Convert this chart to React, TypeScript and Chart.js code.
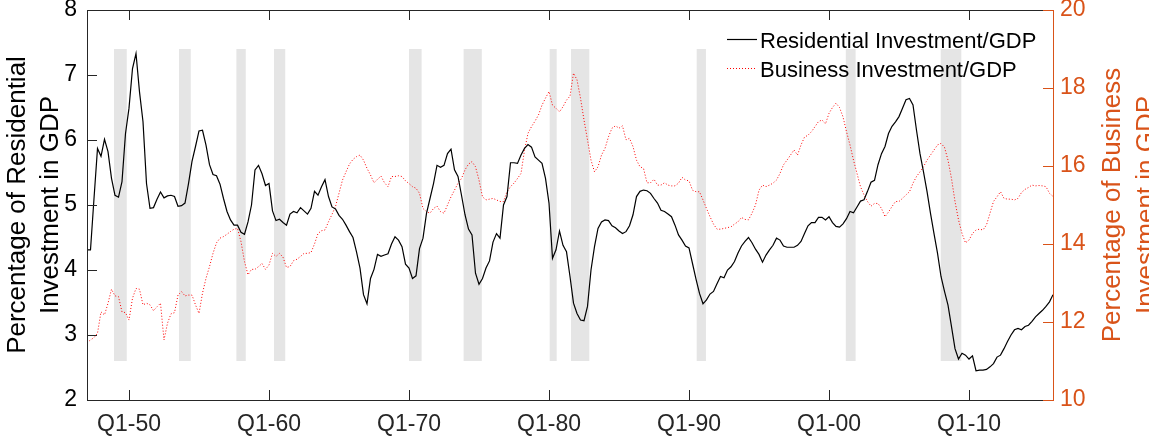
import React, { useEffect, useRef } from 'react';
import { Chart, registerables } from 'chart.js';

Chart.register(...registerables);

// ---------------- data ----------------
const startYear = 1947; // first observation: 1947 Q1, quarterly

const residential = [
  4.31, 4.31, 5.10, 5.87, 5.75, 6.01, 5.82, 5.41, 5.15, 5.12, 5.36, 6.10, 6.49, 7.10, 7.33, 6.74,
  6.28, 5.33, 4.95, 4.96, 5.09, 5.20, 5.11, 5.14, 5.15, 5.13, 4.98, 4.99, 5.03, 5.33, 5.67, 5.90,
  6.14, 6.15, 5.92, 5.62, 5.47, 5.45, 5.32, 5.10, 4.90, 4.77, 4.69, 4.69, 4.58, 4.55, 4.74, 5.00,
  5.54, 5.61, 5.48, 5.30, 5.33, 4.91, 4.76, 4.78, 4.73, 4.69, 4.86, 4.90, 4.88, 4.96, 4.91, 4.86,
  4.95, 5.21, 5.15, 5.28, 5.39, 5.13, 4.97, 4.94, 4.84, 4.78, 4.69, 4.59, 4.50, 4.28, 4.03, 3.62,
  3.48, 3.87, 4.01, 4.24, 4.21, 4.23, 4.25, 4.40, 4.51, 4.46, 4.36, 4.09, 4.03, 3.87, 3.91, 4.33,
  4.49, 4.87, 5.10, 5.33, 5.61, 5.58, 5.61, 5.79, 5.86, 5.54, 5.44, 5.15, 4.85, 4.63, 4.54, 3.95,
  3.78, 3.87, 4.03, 4.14, 4.43, 4.56, 4.49, 5.00, 5.13, 5.65, 5.65, 5.64, 5.77, 5.87, 5.93, 5.89,
  5.74, 5.69, 5.64, 5.41, 5.03, 4.18, 4.31, 4.60, 4.38, 4.28, 3.90, 3.49, 3.33, 3.23, 3.22, 3.44,
  4.00, 4.36, 4.64, 4.74, 4.77, 4.76, 4.68, 4.65, 4.60, 4.56, 4.59, 4.68, 4.85, 5.13, 5.21, 5.23,
  5.22, 5.18, 5.10, 5.03, 4.92, 4.90, 4.86, 4.82, 4.69, 4.54, 4.46, 4.37, 4.34, 4.10, 3.86, 3.64,
  3.48, 3.54, 3.63, 3.67, 3.79, 3.90, 3.88, 4.00, 4.05, 4.13, 4.26, 4.37, 4.44, 4.50, 4.42, 4.32,
  4.24, 4.12, 4.23, 4.31, 4.38, 4.49, 4.46, 4.37, 4.35, 4.35, 4.35, 4.38, 4.44, 4.56, 4.68, 4.73,
  4.73, 4.81, 4.81, 4.77, 4.82, 4.73, 4.67, 4.66, 4.71, 4.79, 4.90, 4.88, 4.97, 5.06, 5.08, 5.21,
  5.35, 5.38, 5.62, 5.79, 5.90, 6.10, 6.21, 6.28, 6.36, 6.49, 6.62, 6.64, 6.54, 6.15, 5.79, 5.51,
  5.21, 4.87, 4.56, 4.26, 3.90, 3.67, 3.46, 3.13, 2.79, 2.63, 2.72, 2.69, 2.63, 2.68, 2.45, 2.46,
  2.46, 2.47, 2.51, 2.56, 2.66, 2.69, 2.79, 2.90, 3.00, 3.08, 3.10, 3.08, 3.13, 3.15, 3.21, 3.28,
  3.33, 3.38, 3.44, 3.51, 3.62,
];

const business = [
  11.47, 11.54, 11.60, 11.71, 12.26, 12.18, 12.48, 12.84, 12.67, 12.65, 12.26, 12.24, 12.05, 12.61, 12.86, 12.84,
  12.44, 12.48, 12.44, 12.29, 12.39, 12.48, 11.54, 11.97, 12.21, 12.24, 12.69, 12.78, 12.67, 12.69, 12.69, 12.44,
  12.22, 12.74, 13.12, 13.42, 13.76, 14.03, 14.15, 14.19, 14.25, 14.32, 14.38, 14.40, 14.06, 13.55, 13.21, 13.35,
  13.35, 13.42, 13.50, 13.35, 13.46, 13.76, 13.68, 13.76, 13.66, 13.40, 13.42, 13.57, 13.61, 13.68, 13.76, 13.76,
  13.78, 14.00, 14.27, 14.34, 14.36, 14.57, 14.76, 14.96, 15.30, 15.64, 15.85, 16.05, 16.17, 16.24, 16.28, 16.15,
  15.94, 15.77, 15.57, 15.66, 15.74, 15.57, 15.47, 15.73, 15.73, 15.75, 15.73, 15.62, 15.55, 15.47, 15.43, 15.30,
  14.91, 14.83, 14.79, 14.91, 14.97, 14.83, 14.79, 15.00, 15.21, 15.38, 15.56, 15.68, 15.90, 16.05, 16.11, 15.98,
  15.64, 15.21, 15.13, 15.15, 15.17, 15.13, 15.09, 15.09, 15.34, 15.47, 15.56, 15.68, 15.81, 16.40, 16.84, 17.01,
  17.15, 17.31, 17.56, 17.74, 17.91, 17.56, 17.48, 17.39, 17.52, 17.69, 17.79, 18.38, 18.21, 17.74, 17.18, 16.67,
  16.15, 15.85, 15.98, 16.28, 16.45, 16.75, 16.97, 17.03, 16.97, 17.03, 16.67, 16.71, 16.50, 16.15, 15.98, 15.94,
  15.57, 15.57, 15.66, 15.51, 15.51, 15.57, 15.51, 15.49, 15.49, 15.56, 15.71, 15.64, 15.62, 15.38, 15.34, 15.34,
  15.13, 14.91, 14.70, 14.51, 14.38, 14.38, 14.40, 14.42, 14.44, 14.51, 14.57, 14.68, 14.63, 14.62, 14.79, 15.00,
  15.38, 15.51, 15.47, 15.51, 15.56, 15.64, 15.81, 16.03, 16.15, 16.28, 16.41, 16.28, 16.54, 16.74, 16.79, 16.88,
  17.01, 17.14, 17.18, 17.08, 17.35, 17.50, 17.61, 17.50, 17.26, 16.88, 16.54, 16.15, 15.81, 15.47, 15.26, 15.09,
  14.97, 15.04, 15.04, 14.91, 14.70, 14.82, 14.96, 15.09, 15.09, 15.17, 15.26, 15.34, 15.56, 15.73, 15.85, 15.98,
  16.15, 16.28, 16.41, 16.54, 16.58, 16.48, 16.15, 15.68, 15.09, 14.62, 14.27, 14.03, 14.10, 14.27, 14.36, 14.38,
  14.36, 14.49, 14.79, 15.09, 15.21, 15.34, 15.17, 15.15, 15.15, 15.13, 15.17, 15.32, 15.40, 15.45, 15.51, 15.49,
  15.50, 15.49, 15.47, 15.30, 15.22,
];

// NBER recessions (fractional years)
const recessionStart = [1948.93, 1953.57, 1957.67, 1960.36, 1970.0, 1973.9, 1980.05, 1981.57, 1990.55, 2001.2, 2007.98];
const recessionEnd = [1949.84, 1954.41, 1958.34, 1961.16, 1970.9, 1975.2, 1980.55, 1982.88, 1991.21, 2001.9, 2009.45];
const shadeBottom = 2.6;
const shadeTop = 7.4;

const xTickValues = [1950, 1960, 1970, 1980, 1990, 2000, 2010];
const xTickLabels = ['Q1-50', 'Q1-60', 'Q1-70', 'Q1-80', 'Q1-90', 'Q1-00', 'Q1-10'];
const xMin = 1947;
const xMax = 2016;
const leftMin = 2, leftMax = 8, leftStep = 1;
const rightMin = 10, rightMax = 20, rightStep = 2;

const seriesLabels = ['Residential Investment/GDP', 'Business Investment/GDP'];
const leftTitle = ['Percentage of Residential', 'Investment in GDP'];
const rightTitle = ['Percentage of Business', 'Investment in GDP'];

// ---------------- styles ----------------
const FONT = '"Liberation Sans", Arial, Helvetica, sans-serif';
const AXIS = '#262626';
const ORANGE = '#D95319';
const RED = '#FF0000';
const SHADE = '#E5E5E5';

const decorPlugin = {
  id: 'decor',
  beforeDatasetsDraw(chart: any) {
    const { ctx, scales } = chart;
    const x = scales.x, y = scales.y;
    ctx.save();
    ctx.fillStyle = SHADE;
    const t = y.getPixelForValue(shadeTop);
    const b = y.getPixelForValue(shadeBottom);
    recessionStart.forEach((s, k) => {
      const a = x.getPixelForValue(s);
      const e = x.getPixelForValue(recessionEnd[k]);
      ctx.fillRect(a, t, e - a, b - t);
    });
    ctx.restore();
  },
  afterDatasetsDraw(chart: any) {
    const { ctx, chartArea, scales } = chart;
    const { left, right, top, bottom } = chartArea;
    const x = scales.x, y = scales.y, y1 = scales.y1;
    const tl = 10;
    ctx.save();
    ctx.lineWidth = 1;
    // box
    ctx.strokeStyle = AXIS;
    ctx.beginPath();
    ctx.moveTo(left, top + 0.5); ctx.lineTo(right, top + 0.5);
    ctx.moveTo(left, bottom + 0.5); ctx.lineTo(right, bottom + 0.5);
    ctx.moveTo(left + 0.5, top); ctx.lineTo(left + 0.5, bottom + 1);
    ctx.stroke();
    // x ticks (inside, top & bottom)
    ctx.beginPath();
    xTickValues.forEach((v) => {
      const px = Math.round(x.getPixelForValue(v)) + 0.5;
      ctx.moveTo(px, bottom); ctx.lineTo(px, bottom - tl);
      ctx.moveTo(px, top); ctx.lineTo(px, top + tl);
    });
    // left ticks
    y.ticks.forEach((tk: any) => {
      const py = Math.round(y.getPixelForValue(tk.value)) + 0.5;
      ctx.moveTo(left, py); ctx.lineTo(left + tl, py);
    });
    ctx.stroke();
    // right axis (orange)
    ctx.strokeStyle = ORANGE;
    ctx.beginPath();
    ctx.moveTo(right + 0.5, top); ctx.lineTo(right + 0.5, bottom + 1);
    y1.ticks.forEach((tk: any) => {
      const py = Math.round(y1.getPixelForValue(tk.value)) + 0.5;
      ctx.moveTo(right + 1, py); ctx.lineTo(right - tl, py);
    });
    ctx.stroke();

    // legend
    const lgX = 727, lgLen = 30, lgTextX = 760;
    const rows = [
      { line: 39.5, base: 48, color: '#000000', dash: [] as number[], width: 1.2 },
      { line: 68.5, base: 77, color: RED, dash: [1, 2], width: 1 },
    ];
    ctx.font = `22px ${FONT}`;
    ctx.textAlign = 'left';
    ctx.textBaseline = 'alphabetic';
    rows.forEach((r, k) => {
      ctx.strokeStyle = r.color;
      ctx.lineWidth = r.width;
      ctx.setLineDash(r.dash);
      ctx.beginPath();
      ctx.moveTo(lgX, r.line); ctx.lineTo(lgX + lgLen, r.line);
      ctx.stroke();
      ctx.setLineDash([]);
      ctx.fillStyle = '#000000';
      ctx.fillText(seriesLabels[k], lgTextX, r.base);
    });

    // axis titles (rotated, reading bottom-to-top)
    const midY = (top + bottom) / 2;
    ctx.font = `26px ${FONT}`;
    ctx.textAlign = 'center';
    const drawRot = (text: string, bx: number, color: string) => {
      ctx.save();
      ctx.translate(bx, midY);
      ctx.rotate(-Math.PI / 2);
      ctx.fillStyle = color;
      ctx.fillText(text, 0, 0);
      ctx.restore();
    };
    drawRot(leftTitle[0], 25, '#000000');
    drawRot(leftTitle[1], 58, '#000000');
    drawRot(rightTitle[0], 1120, ORANGE);
    drawRot(rightTitle[1], 1154, ORANGE);
    ctx.restore();
  },
};

export default function App() {
  const canvasRef = useRef<HTMLCanvasElement | null>(null);

  useEffect(() => {
    const canvas = canvasRef.current;
    if (!canvas) return;
    const resData = residential.map((v, i) => ({ x: startYear + i / 4, y: v }));
    const busData = business.map((v, i) => ({ x: startYear + i / 4, y: v }));

    const chart = new Chart(canvas, {
      type: 'line',
      data: {
        datasets: [
          {
            label: seriesLabels[0],
            data: resData,
            yAxisID: 'y',
            borderColor: '#000000',
            borderWidth: 1.2,
            pointRadius: 0,
            tension: 0,
            fill: false,
          },
          {
            label: seriesLabels[1],
            data: busData,
            yAxisID: 'y1',
            borderColor: RED,
            borderWidth: 1,
            borderDash: [1, 2],
            pointRadius: 0,
            tension: 0,
            fill: false,
          },
        ],
      },
      plugins: [decorPlugin],
      options: {
        responsive: false,
        animation: false,
        devicePixelRatio: 1,
        parsing: true,
        layout: { padding: { top: 10, left: 0, right: 0, bottom: 0 } },
        plugins: {
          legend: { display: false },
          tooltip: { enabled: false },
          title: { display: false },
        },
        scales: {
          x: {
            type: 'linear',
            min: xMin,
            max: xMax,
            grid: { display: false, drawTicks: false, tickLength: 0 },
            border: { display: false },
            afterBuildTicks: (s: any) => {
              s.ticks = xTickValues.map((v) => ({ value: v }));
            },
            afterFit: (s: any) => {
              s.height = 38;
              s.paddingLeft = 0; s.paddingRight = 0;
            },
            ticks: {
              autoSkip: false,
              maxRotation: 0,
              padding: 11,
              color: AXIS,
              font: { family: FONT, size: 23 },
              callback: (v: any) => {
                const k = xTickValues.indexOf(Number(v));
                return k >= 0 ? xTickLabels[k] : '';
              },
            },
          },
          y: {
            type: 'linear',
            position: 'left',
            min: leftMin,
            max: leftMax,
            grid: { display: false, drawTicks: false, tickLength: 0 },
            border: { display: false },
            afterFit: (s: any) => {
              s.width = 87;
              s.paddingTop = 0; s.paddingBottom = 0;
            },
            ticks: {
              stepSize: leftStep,
              padding: 10,
              color: '#000000',
              font: { family: FONT, size: 23 },
            },
          },
          y1: {
            type: 'linear',
            position: 'right',
            min: rightMin,
            max: rightMax,
            grid: { display: false, drawTicks: false, tickLength: 0 },
            border: { display: false },
            afterFit: (s: any) => {
              s.width = 96;
              s.paddingTop = 0; s.paddingBottom = 0;
            },
            ticks: {
              stepSize: rightStep,
              padding: 7,
              color: ORANGE,
              font: { family: FONT, size: 23 },
            },
          },
        },
      },
    } as any);

    return () => chart.destroy();
  }, []);

  return (
    <div style={{ position: 'fixed', left: 0, top: 0, width: 1149, height: 438, background: '#fff' }}>
      <canvas ref={canvasRef} width={1149} height={438} style={{ display: 'block', width: 1149, height: 438 }} />
    </div>
  );
}
